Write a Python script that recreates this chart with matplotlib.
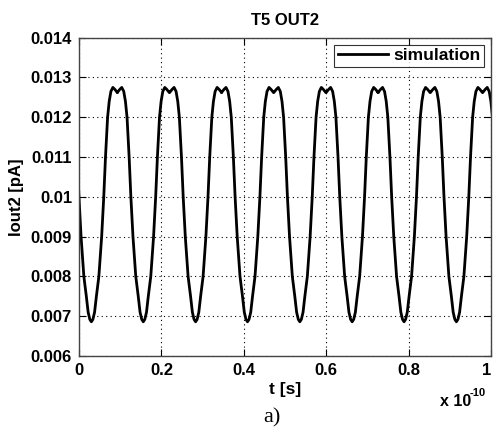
import numpy as np
import matplotlib
matplotlib.use("Agg")
from matplotlib import pyplot as plt

# times of the current minima (units of 1e-10 s)
min_times = [0.030, 0.156, 0.283, 0.409, 0.536, 0.663, 0.789, 0.916, 1.043]

# half-cycle profile around a minimum: offset from the minimum (1e-10 s) and Iout2 (pA)
cycle_offset = [0.0, 0.0037, 0.0078, 0.0122, 0.0182, 0.0250, 0.0301, 0.0343,
                0.0394, 0.0433, 0.0474, 0.0522, 0.0571, 0.0633]
cycle_iout = [0.00686, 0.00692, 0.00710, 0.00750, 0.00800, 0.00900, 0.01000, 0.01100,
              0.01200, 0.01240, 0.01265, 0.01275, 0.01270, 0.01262]

xticks = [0, 0.2, 0.4, 0.6, 0.8, 1.0]
xtick_labels = ['0', '0.2', '0.4', '0.6', '0.8', '1']
yticks = [0.006, 0.007, 0.008, 0.009, 0.01, 0.011, 0.012, 0.013, 0.014]

plt.rcParams['font.family'] = 'Liberation Sans'

# build the trace from the read-off cycle profile
off = np.array(cycle_offset)
val = np.array(cycle_iout)
t_all, i_all = [], []
for m in min_times:
    t_all.append(m - off[::-1])
    i_all.append(val[::-1])
    t_all.append(m + off[1:])
    i_all.append(val[1:])
t_all = np.concatenate(t_all)
i_all = np.concatenate(i_all)

fig = plt.figure(figsize=(4.93, 4.32), dpi=100)
ax = fig.add_axes([79 / 493, 76 / 432, 412 / 493, 318.3 / 432])

ax.plot(t_all, i_all, color='black', linewidth=2.0, label='simulation')

ax.set_xlim(0, 1)
ax.set_ylim(0.006, 0.014)
ax.set_xticks(xticks)
ax.set_xticklabels(xtick_labels)
ax.set_yticks(yticks)
ax.set_yticklabels(['%g' % v for v in yticks])

ax.grid(True, linestyle=(0, (1, 3)), color='black', linewidth=0.8)
ax.tick_params(direction='in', top=True, right=True, length=5, width=0.8,
               labelsize=12, pad=5)
for lab in ax.get_xticklabels() + ax.get_yticklabels():
    lab.set_fontweight('bold')
# last x label sits at the figure edge, keep it inside
ax.get_xticklabels()[-1].set_horizontalalignment('right')
for sp in ax.spines.values():
    sp.set_color('#444444')
    sp.set_linewidth(1.0)

ax.set_title('T5 OUT2', fontsize=12, fontweight='bold', pad=9)
ax.set_xlabel('t [s]', fontsize=12.5, fontweight='bold', labelpad=3)
ax.set_ylabel('Iout2 [pA]', fontsize=12, fontweight='bold', labelpad=5)

leg = ax.legend(loc='upper right', prop={'weight': 'bold', 'size': 12.5},
                frameon=True, fancybox=False, handlelength=2.9, handletextpad=0.3,
                borderpad=0.2, borderaxespad=0.4)
leg.get_frame().set_edgecolor('black')
leg.get_frame().set_linewidth(0.8)

# MATLAB-style exponent under the x axis
fig.text(440 / 493, 1 - 401 / 432, 'x 10', fontsize=11.5, fontweight='bold',
         va='center', ha='left')
fig.text(470 / 493, 1 - 393 / 432, '-10', fontsize=8, fontweight='bold',
         va='center', ha='left')
fig.text(272 / 493, 1 - 418 / 432, 'a)', fontsize=16, family='Liberation Serif',
         ha='center', va='center')

fig.savefig('out.png', dpi=100)
